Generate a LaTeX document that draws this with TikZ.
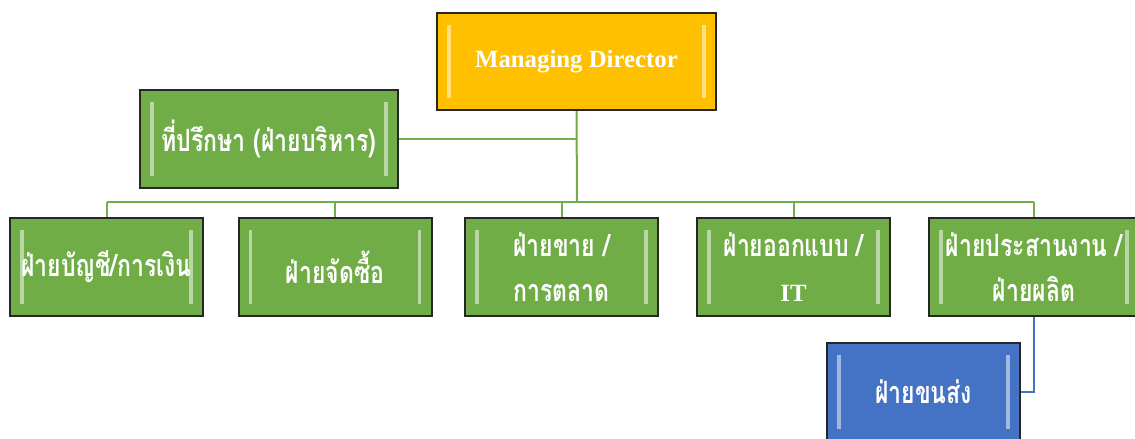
\documentclass[tikz,border=0pt]{standalone}
\usepackage{fontspec}
\setmainfont{Liberation Serif}
\newfontfamily\thaifont[Script=Thai,FakeStretch=0.75]{Loma}
\usepackage{xcolor}
\definecolor{mdorange}{RGB}{255,192,0}
\definecolor{deptgreen}{RGB}{112,173,71}
\definecolor{shipblue}{RGB}{68,114,196}
\definecolor{boxedge}{RGB}{38,38,38}

\tikzset{
  unitbox/.style={draw=boxedge, line width=1.5pt, text=white, align=center,
    inner sep=0pt, font=\thaifont\bfseries\fontsize{23}{34}\selectfont,
    path picture={
      \draw[white, opacity=0.5, line width=2.5pt]
        ([xshift=9pt,yshift=-9pt]path picture bounding box.north west)
        -- ([xshift=9pt,yshift=9pt]path picture bounding box.south west);
      \draw[white, opacity=0.5, line width=2.5pt]
        ([xshift=-9pt,yshift=-9pt]path picture bounding box.north east)
        -- ([xshift=-9pt,yshift=9pt]path picture bounding box.south east);
    }},
  deptbox/.style={unitbox, fill=deptgreen, minimum width=144.75pt, minimum height=73.5pt},
  greenline/.style={draw=deptgreen, line width=1.5pt},
  blueline/.style={draw=shipblue, line width=1.5pt}
}

\begin{document}
\begin{tikzpicture}[x=0.75pt, y=-0.75pt]
  \useasboundingbox (0,0) rectangle (1135,439);

  % Top
  \node[unitbox, fill=mdorange, minimum width=209.25pt, minimum height=72.75pt,
    font=\bfseries\fontsize{18.6}{22}\selectfont] (md) at (576.5,61.5)
    {\raisebox{-3pt}{Managing Director}};
  \node[unitbox, fill=deptgreen, minimum width=193.5pt, minimum height=73.5pt]
    (adv) at (269,139) {ที่ปรึกษา (ฝ่ายบริหาร)};

  % Departments
  \node[deptbox] (acc)  at (106.5,267) {ฝ่ายบัญชี/การเงิน};
  \node[deptbox] (buy)  at (335,267)   {ฝ่ายจัดซื้อ};
  \node[deptbox] (sale) at (561.5,267) {ฝ่ายขาย /\\การตลาด};
  \node[deptbox] (dsgn) at (793.5,267) {ฝ่ายออกแบบ /\\{\normalfont\bfseries\fontsize{18.6}{22}\selectfont IT}};
  \node[deptbox, minimum width=157.5pt] (prod) at (1034,267) {ฝ่ายประสานงาน /\\ฝ่ายผลิต};
  \node[unitbox, fill=shipblue, minimum width=144.75pt, minimum height=73.5pt]
    (ship) at (923.5,392) {ฝ่ายขนส่ง};

  % Connectors
  \coordinate (bus) at (577,202);
  \draw[greenline] (md.south) -- (bus);
  \draw[greenline] (adv.east) -- (adv.east -| md.south);
  \draw[greenline] (acc.north |- bus) -- (prod.north |- bus);
  \foreach \n in {acc,buy,sale,dsgn,prod}
    \draw[greenline] (\n.north |- bus) -- (\n.north);
  \draw[blueline] (prod.south) |- (ship.east);
\end{tikzpicture}
\end{document}
